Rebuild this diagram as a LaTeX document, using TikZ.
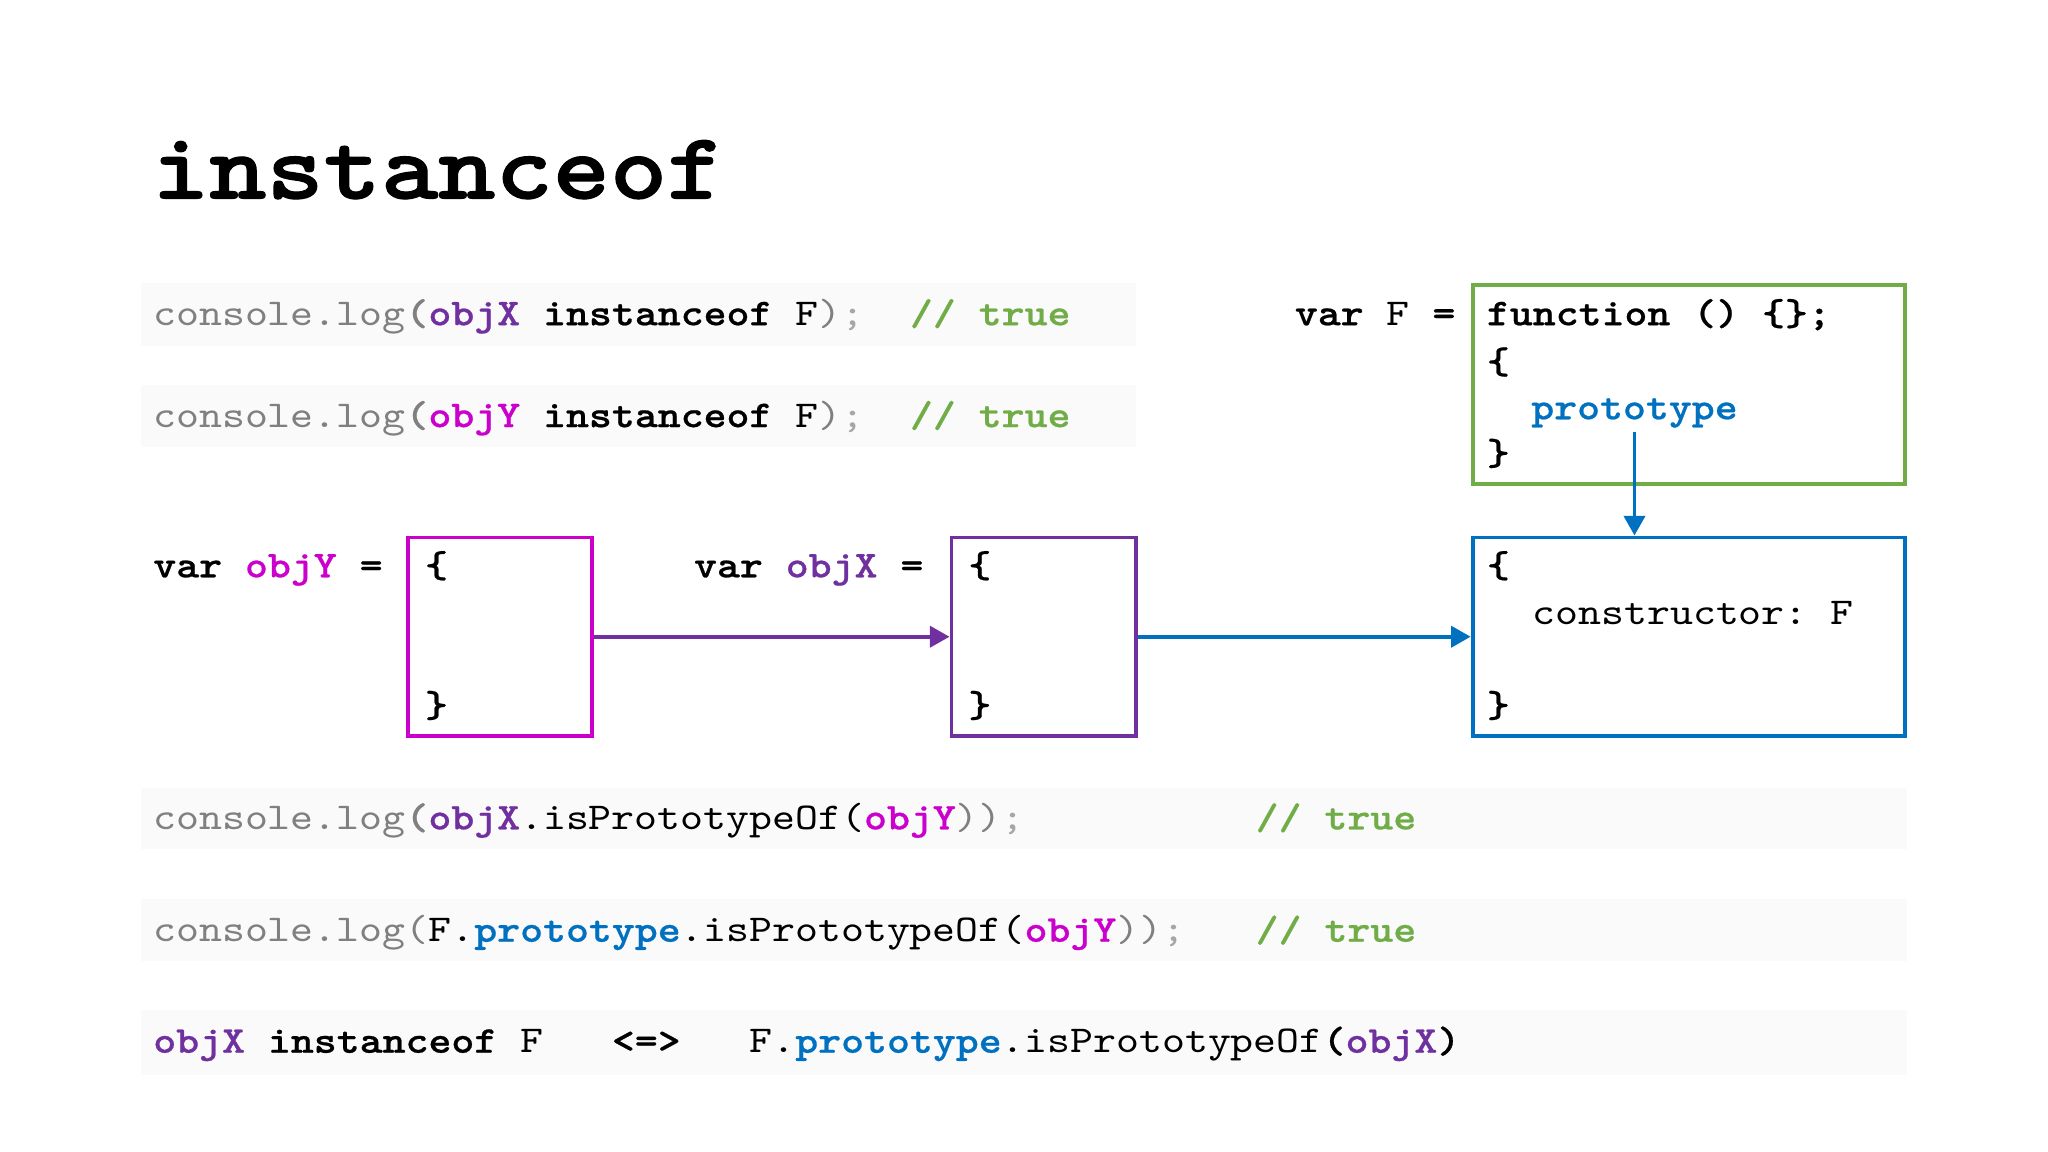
\documentclass[tikz,border=0pt]{standalone}
\usepackage{fontspec}
\setmonofont{lmmono10-regular}[Extension=.otf,BoldFont=lmmonolt10-bold,FakeStretch=1.153,BoldFeatures={FakeBold=0.6}]
\newfontfamily\titlefont{lmmonolt10-bold}[Extension=.otf,FakeStretch=1.153,FakeBold=1.2]
\usetikzlibrary{arrows.meta}
\definecolor{cgray}{HTML}{808080}
\definecolor{clgray}{HTML}{A6A6A6}
\definecolor{cpurple}{HTML}{7030A0}
\definecolor{cmag}{HTML}{CC00CC}
\definecolor{cblue}{HTML}{0070C0}
\definecolor{cgreen}{HTML}{70AD47}
\definecolor{rowbgc}{HTML}{FAFAFA}
\newcommand\Gy[1]{{\color{cgray}#1}}
\newcommand\Lg[1]{{\color{clgray}#1}}
\newcommand\Bd[1]{{\bfseries #1}}
\newcommand\Pu[1]{{\bfseries\color{cpurple}#1}}
\newcommand\Mg[1]{{\bfseries\color{cmag}#1}}
\newcommand\Bl[1]{{\bfseries\color{cblue}#1}}
\newcommand\Gn[1]{{\bfseries\color{cgreen}#1}}
\begin{document}
\begin{tikzpicture}[x=0.5pt,y=-0.5pt,
  code/.style={anchor=base west,inner sep=0pt,font=\ttfamily\fontsize{14.5}{17}\selectfont},
  objbox/.style={draw,line width=1.5pt,minimum height=76pt,inner sep=0pt},
  arr/.style={line width=1.5pt,-{Triangle[length=7.5pt,width=8pt]}},
  rowbg/.style={fill=rowbgc,draw=none}]
\useasboundingbox[fill=white] (0,0) rectangle (1568,882);
% row backgrounds
\fill[rowbg] (108,217) rectangle (870,265);
\fill[rowbg] (108,295) rectangle (870,342);
\fill[rowbg] (108,603) rectangle (1460,650);
\fill[rowbg] (108,688) rectangle (1460,736);
\fill[rowbg] (108,773) rectangle (1460,823);
% title
\node[anchor=base west,inner sep=0pt,font=\titlefont\fontsize{36.2}{40}\selectfont] (title) at (116,152) {instanceof};
% top rows
\node[code] (r1) at (117,249) {\Gy{console.log}\Gy{\bfseries(}\Pu{objX} \Bd{instanceof} F\Gy{)}\Lg{;}~~\Gn{// true}};
\node[code] (r2) at (117,327) {\Gy{console.log}\Gy{\bfseries(}\Mg{objY} \Bd{instanceof} F\Gy{)}\Lg{;}~~\Gn{// true}};
% function box
\node[code] (varF) at (991,249) {\Bd{var} F \Bd{=}};
\node[objbox,draw=cgreen,minimum width=165.5pt] (fbox) at (1293,294.5) {};
\node[code] (fn) at (1138,249) {\Bd{function () \{\};}};
\node[code] (fo) at (1138,286) {\Bd{\{}};
\node[code] (proto) at (1172,321) {\Bl{prototype}};
\node[code] (fc) at (1138,356) {\Bd{\}}};
% objects
\node[code] (varY) at (117,442) {\Bd{var} \Mg{objY} \Bd{=}};
\node[objbox,draw=cmag,minimum width=70.5pt] (boxY) at (383,487.5) {};
\node[code] (yo) at (325,442) {\Bd{\{}};
\node[code] (yc) at (325,549) {\Bd{\}}};
\node[code] (varX) at (531,442) {\Bd{var} \Pu{objX} \Bd{=}};
\node[objbox,draw=cpurple,minimum width=70.5pt] (boxX) at (799,487.5) {};
\node[code] (xo) at (741,442) {\Bd{\{}};
\node[code] (xc) at (741,549) {\Bd{\}}};
\node[objbox,draw=cblue,minimum width=165.5pt] (boxP) at (1293,487.5) {};
\node[code] (po) at (1138,442) {\Bd{\{}};
\node[code] (pctor) at (1173,478) {constructor: F};
\node[code] (pc) at (1138,549) {\Bd{\}}};
% connectors
\draw[arr,cpurple] (boxY.east) -- (boxX.west);
\draw[arr,cblue] (boxX.east) -- (boxP.west);
\draw[arr,cblue] ([yshift=-1.5pt]proto.south) -- (proto.south |- boxP.north);
% bottom rows
\node[code] (r3) at (117,635) {\Gy{console.log}\Gy{\bfseries(}\Pu{objX}.isPrototypeOf(\Mg{objY}\Gy{))}\Lg{;}};
\node[code] (r3c) at (961,635) {\Gn{// true}};
\node[code] (r4) at (117,721) {\Gy{console.log(}F.\Bl{prototype}.isPrototypeOf(\Mg{objY}\Gy{))}\Lg{;}};
\node[code] (r4c) at (961,721) {\Gn{// true}};
\node[code] (r5) at (117,806) {\Pu{objX} \Bd{instanceof} F~~~\Bd{<=>}~~~F.\Bl{prototype}.isPrototypeOf\Bd{(}\Pu{objX}\Bd{)}};
\end{tikzpicture}
\end{document}
